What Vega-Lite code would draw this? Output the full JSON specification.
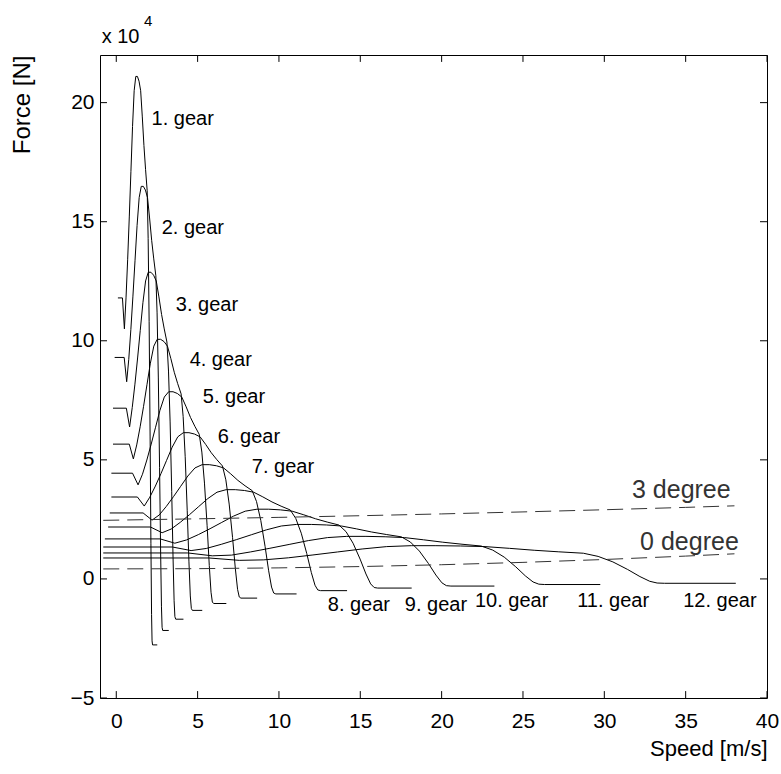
{
  "$schema": "https://vega.github.io/schema/vega-lite/v6.json",
  "width": 667,
  "height": 643,
  "autosize": {"type": "none"},
  "padding": {"left": 100, "top": 55, "right": 14, "bottom": 76},
  "background": "white",
  "config": {"view": {"stroke": "black", "strokeWidth": 1}, "font": "Liberation Sans"},
  "datasets": {
    "gears": [
      {"g":1,"x":0.1,"y":11.8},{"g":1,"x":0.38,"y":11.8},{"g":1,"x":0.5,"y":10.5},{"g":1,"x":0.6,"y":11.8},{"g":1,"x":0.7,"y":13.4},{"g":1,"x":0.8,"y":15.2},{"g":1,"x":0.9,"y":17.1},{"g":1,"x":1.0,"y":19.0},{"g":1,"x":1.1,"y":20.5},{"g":1,"x":1.2,"y":21.1},{"g":1,"x":1.3,"y":21.1},{"g":1,"x":1.4,"y":20.9},{"g":1,"x":1.5,"y":20.5},{"g":1,"x":1.6,"y":19.4},{"g":1,"x":1.7,"y":18.2},{"g":1,"x":1.8,"y":17.2},{"g":1,"x":1.9,"y":16.3},{"g":1,"x":1.96,"y":14.3},{"g":1,"x":2.02,"y":10.8},{"g":1,"x":2.08,"y":6.0},{"g":1,"x":2.13,"y":1.5},{"g":1,"x":2.17,"y":-1.5},{"g":1,"x":2.2,"y":-2.6},{"g":1,"x":2.23,"y":-2.77},{"g":1,"x":2.52,"y":-2.77},
      {"g":2,"x":-0.1,"y":9.3},{"g":2,"x":0.486,"y":9.3},{"g":2,"x":0.64,"y":8.28},{"g":2,"x":0.768,"y":9.219},{"g":2,"x":0.896,"y":10.469},{"g":2,"x":1.024,"y":11.875},{"g":2,"x":1.152,"y":13.359},{"g":2,"x":1.28,"y":14.844},{"g":2,"x":1.408,"y":16.016},{"g":2,"x":1.536,"y":16.484},{"g":2,"x":1.664,"y":16.484},{"g":2,"x":1.792,"y":16.328},{"g":2,"x":1.92,"y":16.016},{"g":2,"x":2.048,"y":15.156},{"g":2,"x":2.176,"y":14.219},{"g":2,"x":2.304,"y":13.438},{"g":2,"x":2.432,"y":12.734},{"g":2,"x":2.509,"y":11.172},{"g":2,"x":2.586,"y":8.438},{"g":2,"x":2.662,"y":4.688},{"g":2,"x":2.726,"y":1.172},{"g":2,"x":2.778,"y":-1.172},{"g":2,"x":2.816,"y":-2.031},{"g":2,"x":2.854,"y":-2.164},{"g":2,"x":3.226,"y":-2.164},
      {"g":3,"x":-0.2,"y":7.17},{"g":3,"x":0.62,"y":7.17},{"g":3,"x":0.82,"y":6.38},{"g":3,"x":0.983,"y":7.202},{"g":3,"x":1.147,"y":8.179},{"g":3,"x":1.311,"y":9.277},{"g":3,"x":1.475,"y":10.437},{"g":3,"x":1.638,"y":11.597},{"g":3,"x":1.802,"y":12.512},{"g":3,"x":1.966,"y":12.878},{"g":3,"x":2.13,"y":12.878},{"g":3,"x":2.294,"y":12.756},{"g":3,"x":2.458,"y":12.512},{"g":3,"x":2.621,"y":11.841},{"g":3,"x":2.785,"y":11.108},{"g":3,"x":2.949,"y":10.498},{"g":3,"x":3.113,"y":9.949},{"g":3,"x":3.211,"y":8.728},{"g":3,"x":3.31,"y":6.592},{"g":3,"x":3.408,"y":3.662},{"g":3,"x":3.49,"y":0.916},{"g":3,"x":3.555,"y":-0.916},{"g":3,"x":3.604,"y":-1.587},{"g":3,"x":3.654,"y":-1.691},{"g":3,"x":4.129,"y":-1.691},
      {"g":4,"x":-0.2,"y":5.66},{"g":4,"x":0.8,"y":5.66},{"g":4,"x":1.05,"y":5.04},{"g":4,"x":1.258,"y":5.627},{"g":4,"x":1.468,"y":6.389},{"g":4,"x":1.678,"y":7.248},{"g":4,"x":1.887,"y":8.154},{"g":4,"x":2.097,"y":9.06},{"g":4,"x":2.307,"y":9.775},{"g":4,"x":2.517,"y":10.061},{"g":4,"x":2.726,"y":10.061},{"g":4,"x":2.936,"y":9.966},{"g":4,"x":3.146,"y":9.775},{"g":4,"x":3.356,"y":9.25},{"g":4,"x":3.565,"y":8.678},{"g":4,"x":3.775,"y":8.201},{"g":4,"x":3.985,"y":7.772},{"g":4,"x":4.111,"y":6.819},{"g":4,"x":4.236,"y":5.15},{"g":4,"x":4.362,"y":2.861},{"g":4,"x":4.467,"y":0.715},{"g":4,"x":4.551,"y":-0.715},{"g":4,"x":4.614,"y":-1.24},{"g":4,"x":4.677,"y":-1.321},{"g":4,"x":5.285,"y":-1.321},
      {"g":5,"x":-0.3,"y":4.44},{"g":5,"x":1.0,"y":4.44},{"g":5,"x":1.34,"y":3.95},{"g":5,"x":1.611,"y":4.396},{"g":5,"x":1.879,"y":4.992},{"g":5,"x":2.148,"y":5.662},{"g":5,"x":2.416,"y":6.37},{"g":5,"x":2.684,"y":7.078},{"g":5,"x":2.953,"y":7.637},{"g":5,"x":3.221,"y":7.86},{"g":5,"x":3.49,"y":7.86},{"g":5,"x":3.758,"y":7.786},{"g":5,"x":4.027,"y":7.637},{"g":5,"x":4.295,"y":7.227},{"g":5,"x":4.563,"y":6.78},{"g":5,"x":4.832,"y":6.407},{"g":5,"x":5.1,"y":6.072},{"g":5,"x":5.261,"y":5.327},{"g":5,"x":5.422,"y":4.023},{"g":5,"x":5.584,"y":2.235},{"g":5,"x":5.718,"y":0.559},{"g":5,"x":5.825,"y":-0.559},{"g":5,"x":5.906,"y":-0.969},{"g":5,"x":5.986,"y":-1.032},{"g":5,"x":6.765,"y":-1.032},
      {"g":6,"x":-0.3,"y":3.44},{"g":6,"x":1.3,"y":3.44},{"g":6,"x":1.72,"y":3.06},{"g":6,"x":2.062,"y":3.434},{"g":6,"x":2.405,"y":3.9},{"g":6,"x":2.749,"y":4.424},{"g":6,"x":3.092,"y":4.977},{"g":6,"x":3.436,"y":5.53},{"g":6,"x":3.78,"y":5.966},{"g":6,"x":4.123,"y":6.141},{"g":6,"x":4.467,"y":6.141},{"g":6,"x":4.81,"y":6.083},{"g":6,"x":5.154,"y":5.966},{"g":6,"x":5.498,"y":5.646},{"g":6,"x":5.841,"y":5.297},{"g":6,"x":6.185,"y":5.006},{"g":6,"x":6.528,"y":4.744},{"g":6,"x":6.735,"y":4.162},{"g":6,"x":6.941,"y":3.143},{"g":6,"x":7.147,"y":1.746},{"g":6,"x":7.319,"y":0.437},{"g":6,"x":7.456,"y":-0.437},{"g":6,"x":7.559,"y":-0.757},{"g":6,"x":7.662,"y":-0.806},{"g":6,"x":8.659,"y":-0.806},
      {"g":7,"x":-0.4,"y":2.77},{"g":7,"x":1.65,"y":2.77},{"g":7,"x":2.2,"y":2.47},{"g":7,"x":2.639,"y":2.683},{"g":7,"x":3.079,"y":3.047},{"g":7,"x":3.518,"y":3.456},{"g":7,"x":3.958,"y":3.888},{"g":7,"x":4.398,"y":4.32},{"g":7,"x":4.838,"y":4.661},{"g":7,"x":5.278,"y":4.798},{"g":7,"x":5.717,"y":4.798},{"g":7,"x":6.157,"y":4.752},{"g":7,"x":6.597,"y":4.661},{"g":7,"x":7.037,"y":4.411},{"g":7,"x":7.477,"y":4.138},{"g":7,"x":7.916,"y":3.911},{"g":7,"x":8.356,"y":3.706},{"g":7,"x":8.62,"y":3.251},{"g":7,"x":8.884,"y":2.456},{"g":7,"x":9.148,"y":1.364},{"g":7,"x":9.368,"y":0.341},{"g":7,"x":9.544,"y":-0.341},{"g":7,"x":9.676,"y":-0.591},{"g":7,"x":9.808,"y":-0.63},{"g":7,"x":11.083,"y":-0.63},
      {"g":8,"x":-0.5,"y":2.18},{"g":8,"x":2.1,"y":2.18},{"g":8,"x":2.82,"y":1.94},{"g":8,"x":3.378,"y":2.096},{"g":8,"x":3.941,"y":2.38},{"g":8,"x":4.504,"y":2.7},{"g":8,"x":5.067,"y":3.038},{"g":8,"x":5.63,"y":3.375},{"g":8,"x":6.192,"y":3.642},{"g":8,"x":6.755,"y":3.748},{"g":8,"x":7.318,"y":3.748},{"g":8,"x":7.881,"y":3.713},{"g":8,"x":8.444,"y":3.642},{"g":8,"x":9.007,"y":3.446},{"g":8,"x":9.57,"y":3.233},{"g":8,"x":10.133,"y":3.055},{"g":8,"x":10.696,"y":2.895},{"g":8,"x":11.034,"y":2.54},{"g":8,"x":11.372,"y":1.918},{"g":8,"x":11.709,"y":1.066},{"g":8,"x":11.991,"y":0.266},{"g":8,"x":12.216,"y":-0.266},{"g":8,"x":12.385,"y":-0.462},{"g":8,"x":12.554,"y":-0.492},{"g":8,"x":14.186,"y":-0.492},
      {"g":9,"x":-0.7,"y":1.68},{"g":9,"x":2.7,"y":1.68},{"g":9,"x":3.6,"y":1.5},{"g":9,"x":4.323,"y":1.638},{"g":9,"x":5.044,"y":1.86},{"g":9,"x":5.765,"y":2.109},{"g":9,"x":6.485,"y":2.373},{"g":9,"x":7.206,"y":2.637},{"g":9,"x":7.926,"y":2.845},{"g":9,"x":8.647,"y":2.928},{"g":9,"x":9.368,"y":2.928},{"g":9,"x":10.088,"y":2.9},{"g":9,"x":10.809,"y":2.845},{"g":9,"x":11.529,"y":2.692},{"g":9,"x":12.25,"y":2.526},{"g":9,"x":12.97,"y":2.387},{"g":9,"x":13.691,"y":2.262},{"g":9,"x":14.123,"y":1.985},{"g":9,"x":14.556,"y":1.499},{"g":9,"x":14.988,"y":0.833},{"g":9,"x":15.348,"y":0.208},{"g":9,"x":15.637,"y":-0.208},{"g":9,"x":15.853,"y":-0.361},{"g":9,"x":16.069,"y":-0.384},{"g":9,"x":18.159,"y":-0.384},
      {"g":10,"x":-0.8,"y":1.34},{"g":10,"x":3.45,"y":1.34},{"g":10,"x":4.6,"y":1.19},{"g":10,"x":5.534,"y":1.279},{"g":10,"x":6.456,"y":1.453},{"g":10,"x":7.379,"y":1.648},{"g":10,"x":8.301,"y":1.854},{"g":10,"x":9.223,"y":2.06},{"g":10,"x":10.146,"y":2.223},{"g":10,"x":11.068,"y":2.288},{"g":10,"x":11.99,"y":2.288},{"g":10,"x":12.913,"y":2.266},{"g":10,"x":13.835,"y":2.223},{"g":10,"x":14.757,"y":2.103},{"g":10,"x":15.68,"y":1.973},{"g":10,"x":16.602,"y":1.865},{"g":10,"x":17.524,"y":1.767},{"g":10,"x":18.078,"y":1.55},{"g":10,"x":18.631,"y":1.171},{"g":10,"x":19.185,"y":0.651},{"g":10,"x":19.646,"y":0.163},{"g":10,"x":20.015,"y":-0.163},{"g":10,"x":20.291,"y":-0.282},{"g":10,"x":20.568,"y":-0.3},{"g":10,"x":23.243,"y":-0.3},
      {"g":11,"x":-0.8,"y":1.09},{"g":11,"x":4.4,"y":1.09},{"g":11,"x":5.9,"y":0.97},{"g":11,"x":7.084,"y":1.0},{"g":11,"x":8.264,"y":1.135},{"g":11,"x":9.445,"y":1.287},{"g":11,"x":10.625,"y":1.448},{"g":11,"x":11.806,"y":1.609},{"g":11,"x":12.987,"y":1.736},{"g":11,"x":14.167,"y":1.787},{"g":11,"x":15.348,"y":1.787},{"g":11,"x":16.528,"y":1.77},{"g":11,"x":17.709,"y":1.736},{"g":11,"x":18.89,"y":1.643},{"g":11,"x":20.07,"y":1.542},{"g":11,"x":21.251,"y":1.457},{"g":11,"x":22.431,"y":1.381},{"g":11,"x":23.14,"y":1.211},{"g":11,"x":23.848,"y":0.915},{"g":11,"x":24.556,"y":0.508},{"g":11,"x":25.147,"y":0.127},{"g":11,"x":25.619,"y":-0.127},{"g":11,"x":25.973,"y":-0.22},{"g":11,"x":26.327,"y":-0.235},{"g":11,"x":29.751,"y":-0.235},
      {"g":12,"x":-0.8,"y":0.88},{"g":12,"x":5.7,"y":0.88},{"g":12,"x":7.56,"y":0.78},{"g":12,"x":9.067,"y":0.8},{"g":12,"x":10.578,"y":0.887},{"g":12,"x":12.09,"y":1.006},{"g":12,"x":13.601,"y":1.132},{"g":12,"x":15.112,"y":1.257},{"g":12,"x":16.623,"y":1.357},{"g":12,"x":18.134,"y":1.396},{"g":12,"x":19.646,"y":1.396},{"g":12,"x":21.157,"y":1.383},{"g":12,"x":22.668,"y":1.357},{"g":12,"x":24.179,"y":1.284},{"g":12,"x":25.69,"y":1.204},{"g":12,"x":27.202,"y":1.138},{"g":12,"x":28.713,"y":1.079},{"g":12,"x":29.62,"y":0.946},{"g":12,"x":30.526,"y":0.715},{"g":12,"x":31.433,"y":0.397},{"g":12,"x":32.189,"y":0.099},{"g":12,"x":32.793,"y":-0.099},{"g":12,"x":33.246,"y":-0.172},{"g":12,"x":33.7,"y":-0.183},{"g":12,"x":38.082,"y":-0.183}
    ],
    "slopes": [
      {"s":"3 degree","x":-0.8,"y":2.46},{"s":"3 degree","x":5,"y":2.524},{"s":"3 degree","x":10,"y":2.585},{"s":"3 degree","x":15,"y":2.654},{"s":"3 degree","x":20,"y":2.73},{"s":"3 degree","x":25,"y":2.814},{"s":"3 degree","x":30,"y":2.905},{"s":"3 degree","x":35,"y":3.004},{"s":"3 degree","x":38,"y":3.07},
      {"s":"0 degree","x":-0.8,"y":0.42},{"s":"0 degree","x":5,"y":0.431},{"s":"0 degree","x":10,"y":0.464},{"s":"0 degree","x":15,"y":0.519},{"s":"0 degree","x":20,"y":0.596},{"s":"0 degree","x":25,"y":0.695},{"s":"0 degree","x":30,"y":0.816},{"s":"0 degree","x":35,"y":0.959},{"s":"0 degree","x":38,"y":1.055}
    ],
    "gearLabels": [
      {"t":"1. gear","x":2.17,"y":19.33},
      {"t":"2. gear","x":2.79,"y":14.72},
      {"t":"3. gear","x":3.66,"y":11.49},
      {"t":"4. gear","x":4.51,"y":9.18},
      {"t":"5. gear","x":5.32,"y":7.63},
      {"t":"6. gear","x":6.24,"y":5.95},
      {"t":"7. gear","x":8.33,"y":4.7},
      {"t":"8. gear","x":13.0,"y":-1.09},
      {"t":"9. gear","x":17.74,"y":-1.09},
      {"t":"10. gear","x":22.05,"y":-0.92},
      {"t":"11. gear","x":28.33,"y":-0.92},
      {"t":"12. gear","x":34.85,"y":-0.92}
    ],
    "slopeLabels": [
      {"t":"3 degree","x":31.7,"y":3.73},
      {"t":"0 degree","x":32.2,"y":1.55}
    ],
    "xticks": [{"v":0},{"v":5},{"v":10},{"v":15},{"v":20},{"v":25},{"v":30},{"v":35},{"v":40}],
    "yticks": [{"v":-5},{"v":0},{"v":5},{"v":10},{"v":15},{"v":20}]
  },
  "layer": [
    {
      "data": {"name": "gears"},
      "mark": {"type": "line", "color": "black", "strokeWidth": 1},
      "encoding": {
        "x": {"field": "x", "type": "quantitative", "scale": {"domain": [-1, 40], "nice": false, "zero": false},
          "axis": {"orient": "bottom", "values": [0,5,10,15,20,25,30,35,40], "ticks": false, "grid": false, "domain": false, "labelFont": "Liberation Sans", "labelFontSize": 21, "labelColor": "black", "labelPadding": 12, "labelFlush": false, "title": "Speed [m/s]", "titleFont": "Liberation Sans", "titleFontSize": 22, "titleFontWeight": "normal", "titleColor": "black", "titleAnchor": "end", "titlePadding": 7}},
        "y": {"field": "y", "type": "quantitative", "scale": {"domain": [-5, 22], "nice": false, "zero": false},
          "axis": {"orient": "left", "values": [-5,0,5,10,15,20], "ticks": false, "grid": false, "domain": false, "labelFont": "Liberation Sans", "labelFontSize": 21, "labelColor": "black", "labelPadding": 6, "labelFlush": false, "title": "Force [N]", "titleFont": "Liberation Sans", "titleFontSize": 24, "titleFontWeight": "normal", "titleColor": "black", "titleAnchor": "end", "titlePadding": 36}},
        "detail": {"field": "g", "type": "nominal"}
      }
    },
    {
      "data": {"name": "slopes"},
      "mark": {"type": "line", "color": "#333333", "strokeWidth": 1, "strokeDash": [16, 8]},
      "encoding": {
        "x": {"field": "x", "type": "quantitative", "axis": null},
        "y": {"field": "y", "type": "quantitative", "axis": null},
        "detail": {"field": "s", "type": "nominal"}
      }
    },
    {
      "data": {"name": "xticks"},
      "mark": {"type": "rule", "color": "black", "strokeWidth": 1},
      "encoding": {
        "x": {"field": "v", "type": "quantitative", "axis": null},
        "y": {"datum": -5, "type": "quantitative", "axis": null},
        "y2": {"datum": -4.71}
      }
    },
    {
      "data": {"name": "xticks"},
      "mark": {"type": "rule", "color": "black", "strokeWidth": 1},
      "encoding": {
        "x": {"field": "v", "type": "quantitative", "axis": null},
        "y": {"datum": 22, "type": "quantitative", "axis": null},
        "y2": {"datum": 21.71}
      }
    },
    {
      "data": {"name": "yticks"},
      "mark": {"type": "rule", "color": "black", "strokeWidth": 1},
      "encoding": {
        "y": {"field": "v", "type": "quantitative", "axis": null},
        "x": {"datum": -1, "type": "quantitative", "axis": null},
        "x2": {"datum": -0.57}
      }
    },
    {
      "data": {"name": "yticks"},
      "mark": {"type": "rule", "color": "black", "strokeWidth": 1},
      "encoding": {
        "y": {"field": "v", "type": "quantitative", "axis": null},
        "x": {"datum": 40, "type": "quantitative", "axis": null},
        "x2": {"datum": 39.57}
      }
    },
    {
      "data": {"name": "gearLabels"},
      "mark": {"type": "text", "align": "left", "baseline": "middle", "font": "Liberation Sans", "fontSize": 20, "color": "black"},
      "encoding": {
        "x": {"field": "x", "type": "quantitative", "axis": null},
        "y": {"field": "y", "type": "quantitative", "axis": null},
        "text": {"field": "t", "type": "nominal"}
      }
    },
    {
      "data": {"name": "slopeLabels"},
      "mark": {"type": "text", "align": "left", "baseline": "middle", "font": "Liberation Sans", "fontSize": 25, "color": "#333333"},
      "encoding": {
        "x": {"field": "x", "type": "quantitative", "axis": null},
        "y": {"field": "y", "type": "quantitative", "axis": null},
        "text": {"field": "t", "type": "nominal"}
      }
    },
    {
      "data": {"values": [{"t": "x 10", "x": -0.9, "y": 22.52}]},
      "mark": {"type": "text", "align": "left", "baseline": "alphabetic", "font": "Liberation Sans", "fontSize": 20, "color": "black"},
      "encoding": {
        "x": {"field": "x", "type": "quantitative", "axis": null},
        "y": {"field": "y", "type": "quantitative", "axis": null},
        "text": {"field": "t", "type": "nominal"}
      }
    },
    {
      "data": {"values": [{"t": "4", "x": 1.7, "y": 23.2}]},
      "mark": {"type": "text", "align": "left", "baseline": "alphabetic", "font": "Liberation Sans", "fontSize": 15, "color": "black"},
      "encoding": {
        "x": {"field": "x", "type": "quantitative", "axis": null},
        "y": {"field": "y", "type": "quantitative", "axis": null},
        "text": {"field": "t", "type": "nominal"}
      }
    }
  ],
  "resolve": {"axis": {"x": "independent", "y": "independent"}}
}
